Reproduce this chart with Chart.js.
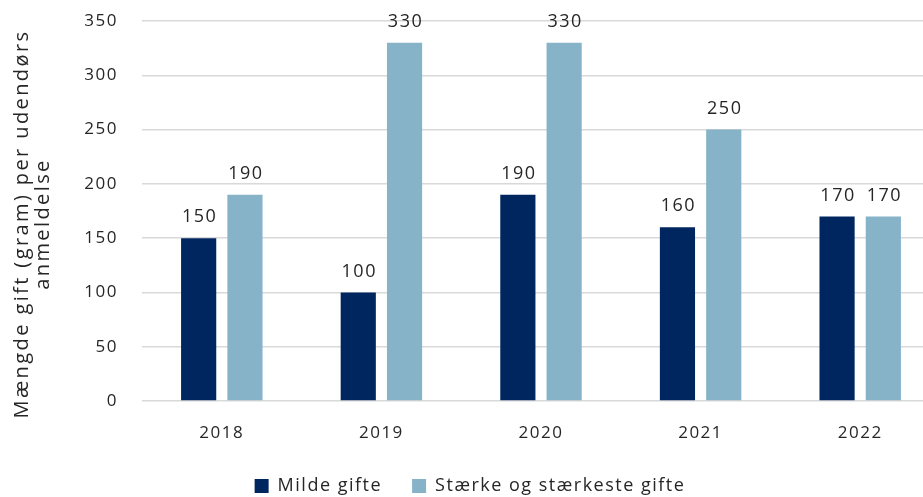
<!DOCTYPE html>
<html>
<head>
<meta charset="utf-8">
<script src="https://cdn.jsdelivr.net/npm/chart.js@4"></script>
<style>
  html, body { margin: 0; padding: 0; background: #fff; overflow: hidden; }
  #wrap { width: 923px; height: 497px; overflow: hidden; }
  #box { width: 945px; height: 505px; }
</style>
</head>
<body>
<div id="wrap"><div id="box"><canvas id="chart"></canvas></div></div>
<script>
const years = ['2018', '2019', '2020', '2021', '2022'];
const mildeGifte = [150, 100, 190, 160, 170];
const staerkeGifte = [190, 330, 330, 250, 170];
const yTitle = ['Mængde gift (gram) per udendørs', 'anmeldelse'];

const FONT = '"Open Sans", Lato, sans-serif';
const TEXT = '#262626';

// wider letter spacing like the original typeface
const spacing = {
	id: 'spacing',
	beforeLayout(chart) { chart.ctx.letterSpacing = '1.5px'; },
	beforeDraw(chart) { chart.ctx.letterSpacing = '1.5px'; },
};

const valueLabels = {
	id: 'valueLabels',
	afterDatasetsDraw(chart) {
		const ctx = chart.ctx;
		ctx.save();
		ctx.font = '18px ' + FONT;
		ctx.fillStyle = TEXT;
		ctx.textAlign = 'center';
		ctx.textBaseline = 'bottom';
		chart.data.datasets.forEach((ds, i) => {
			chart.getDatasetMeta(i).data.forEach((bar, j) => {
				ctx.fillText(String(ds.data[j]), bar.x + 1, bar.y - 12);
			});
		});
		ctx.restore();
	},
};

// y title drawn by hand so it can have its own spacing
const yAxisTitle = {
	id: 'yAxisTitle',
	afterDraw(chart) {
		const ctx = chart.ctx;
		ctx.save();
		ctx.letterSpacing = '2.4px';
		ctx.font = '20px ' + FONT;
		ctx.fillStyle = TEXT;
		ctx.textAlign = 'center';
		ctx.textBaseline = 'middle';
		ctx.translate(0, 224);
		ctx.rotate(-Math.PI / 2);
		yTitle.forEach((line, i) => ctx.fillText(line, 0, 22 + i * 21));
		ctx.restore();
	},
};

new Chart(document.getElementById('chart'), {
	type: 'bar',
	data: {
		labels: years,
		datasets: [
			{ label: 'Milde gifte', data: mildeGifte, backgroundColor: '#002660', categoryPercentage: 0.58, barPercentage: 0.76 },
			{ label: 'Stærke og stærkeste gifte', data: staerkeGifte, backgroundColor: '#86b3c8', categoryPercentage: 0.58, barPercentage: 0.76 },
		],
	},
	options: {
		responsive: true,
		maintainAspectRatio: false,
		animation: false,
		layout: { padding: { top: 0, right: 5, left: 0, bottom: 0 } },
		plugins: {
			tooltip: { enabled: false },
			legend: {
				position: 'bottom',
				labels: { color: TEXT, font: { family: FONT, size: 18 }, boxWidth: 14, boxHeight: 14, padding: 30 },
			},
		},
		scales: {
			x: {
				grid: { display: false, drawTicks: false },
				border: { display: false },
				ticks: { color: TEXT, font: { family: FONT, size: 17 }, padding: 22 },
				afterFit(scale) { scale.height = 46; },
			},
			y: {
				min: 0,
				max: 350,
				ticks: { stepSize: 50, color: TEXT, font: { family: FONT, size: 17 }, padding: 24 },
				grid: { color: '#d9d9d9', lineWidth: 1.5, drawTicks: false },
				border: { display: false },
				afterFit(scale) {
					scale.width = 142;
					scale.paddingTop = 21;
					scale.paddingBottom = 10;
				},
			},
		},
	},
	plugins: [spacing, valueLabels, yAxisTitle],
});
</script>
</body>
</html>
